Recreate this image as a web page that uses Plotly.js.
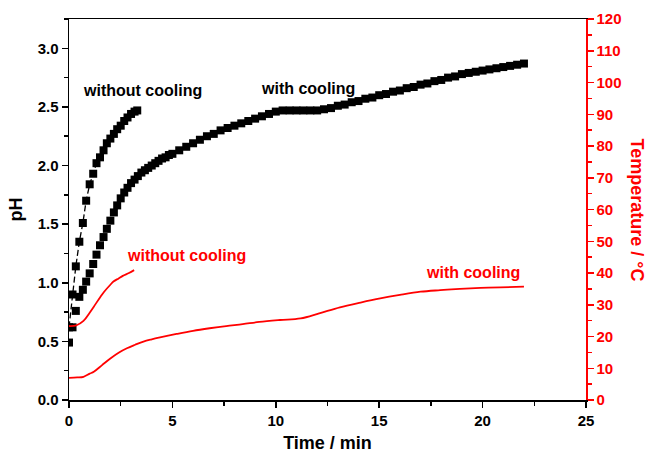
<!DOCTYPE html>
<html>
<head>
<meta charset="utf-8">
<script src="https://cdn.plot.ly/plotly-3.0.1.min.js"></script>
<style>html,body{margin:0;padding:0;background:#fff;}#chart{width:647px;height:457px;}</style>
</head>
<body>
<div id="chart"></div>
<script>
// pH, without cooling
const tPhNo = [0.0, 0.17, 0.33, 0.5, 0.67, 0.83, 1.0, 1.17, 1.33, 1.5, 1.67, 1.83, 2.0, 2.17, 2.33, 2.5, 2.67, 2.83, 3.0, 3.17, 3.3];
const phNo  = [0.62, 0.90, 1.14, 1.35, 1.51, 1.70, 1.84, 1.93, 2.02, 2.07, 2.13, 2.19, 2.23, 2.27, 2.31, 2.34, 2.38, 2.41, 2.44, 2.46, 2.47];

// pH, with cooling
const tPhCool = [0.0, 0.17, 0.33, 0.5, 0.67, 0.83, 1.0, 1.17, 1.33, 1.5, 1.67, 1.83, 2.0, 2.17, 2.33, 2.5, 2.67, 2.83,
  3.0, 3.17, 3.33, 3.5, 3.67, 3.83, 4.0, 4.17, 4.33, 4.5, 4.67, 4.83, 5.0, 5.33, 5.67, 6.0, 6.33, 6.67, 7.0, 7.33, 7.67, 8.0, 8.33, 8.67, 9.0, 9.33, 9.67,
  10.0, 10.33, 10.67, 11.0, 11.33, 11.67, 12.0, 12.33, 12.67, 13.0, 13.33, 13.67, 14.0, 14.33, 14.67, 15.0, 15.33, 15.67,
  16.0, 16.33, 16.67, 17.0, 17.33, 17.67, 18.0, 18.33, 18.67, 19.0, 19.33, 19.67, 20.0, 20.33, 20.67, 21.0, 21.33, 21.67, 22.0];
const phCool = [0.49, 0.62, 0.76, 0.88, 0.94, 1.01, 1.08, 1.16, 1.24, 1.32, 1.39, 1.46, 1.53, 1.60, 1.66, 1.72, 1.77, 1.81,
  1.85, 1.88, 1.91, 1.94, 1.96, 1.98, 2.00, 2.02, 2.04, 2.06, 2.07, 2.09, 2.10, 2.13, 2.16, 2.19, 2.22, 2.25, 2.27, 2.30, 2.32, 2.34, 2.36, 2.38, 2.40, 2.42, 2.44,
  2.46, 2.47, 2.47, 2.47, 2.47, 2.47, 2.47, 2.48, 2.49, 2.51, 2.52, 2.54, 2.55, 2.57, 2.58, 2.60, 2.61, 2.63,
  2.64, 2.66, 2.67, 2.69, 2.70, 2.72, 2.73, 2.75, 2.76, 2.78, 2.79, 2.80, 2.81, 2.82, 2.83, 2.84, 2.85, 2.86, 2.87];

// Temperature, without cooling
const tTNo = [0.0, 0.35, 0.7, 1.0, 1.2, 1.5, 1.7, 2.0, 2.15, 2.4, 2.6, 2.9, 3.15];
const tempNo = [23.3, 23.5, 24.9, 27.5, 29.4, 32.3, 34.1, 36.3, 37.3, 38.3, 39.1, 40.0, 40.9];

// Temperature, with cooling
const tTCool = [0.0, 0.4, 0.7, 1.0, 1.2, 1.6, 2.0, 2.4, 2.8, 3.2, 3.6, 4.0, 4.4, 5.2, 6.0, 6.8, 7.6, 8.4, 9.2, 10.2, 11.2,
  12.1, 13.1, 14.1, 15.05, 16.0, 17.0, 17.95, 18.9, 19.9, 20.85, 22.0];
const tempCool = [7.0, 7.1, 7.3, 8.3, 8.9, 11.0, 13.1, 14.9, 16.3, 17.4, 18.4, 19.1, 19.7, 20.8, 21.8, 22.6, 23.3, 23.9, 24.6, 25.2, 25.7,
  27.3, 29.2, 30.7, 32.0, 33.1, 34.1, 34.6, 35.0, 35.3, 35.5, 35.7];

const FONT = 'Arial, "Liberation Sans", sans-serif';
const RED = '#ff0000';

const traces = [
  {x: tPhNo, y: phNo, mode: 'lines+markers', type: 'scatter', yaxis: 'y',
   line: {color: '#000', width: 1.3, dash: '6px,3px'},
   marker: {symbol: 'square', size: 8, color: '#000'}},
  {x: tPhCool, y: phCool, mode: 'markers', type: 'scatter', yaxis: 'y',
   marker: {symbol: 'square', size: 8, color: '#000'}},
  {x: tTNo, y: tempNo, mode: 'lines', type: 'scatter', yaxis: 'y2',
   line: {color: RED, width: 1.8, shape: 'spline'}},
  {x: tTCool, y: tempCool, mode: 'lines', type: 'scatter', yaxis: 'y2',
   line: {color: RED, width: 1.8, shape: 'spline'}}
];

const tickFontBlack = {family: FONT, size: 15, color: '#000', weight: 'bold'};
const tickFontRed = {family: FONT, size: 15, color: RED, weight: 'bold'};
const annFont = (c) => ({family: FONT, size: 16, color: c, weight: 'bold'});

const layout = {
  width: 647, height: 457,
  margin: {l: 69, r: 61, t: 19, b: 57},
  paper_bgcolor: '#fff', plot_bgcolor: '#fff',
  showlegend: false,
  xaxis: {
    range: [0, 25], tickvals: [0, 5, 10, 15, 20, 25], ticktext: ['0', '5', '10', '15', '20', '25'],
    ticks: 'outside', ticklen: 6, tickwidth: 1.5, tickcolor: '#000',
    minor: {tickvals: [2.5, 7.5, 12.5, 17.5, 22.5], ticks: 'outside', ticklen: 4, tickwidth: 1.5, tickcolor: '#000'},
    showline: true, linecolor: '#000', linewidth: 1.5, mirror: true,
    showgrid: false, zeroline: false,
    tickfont: tickFontBlack,
    title: {text: 'Time / min', font: {family: FONT, size: 18, color: '#000', weight: 'bold'}, standoff: 9}
  },
  yaxis: {
    range: [0, 3.25], tickvals: [0, 0.5, 1, 1.5, 2, 2.5, 3], ticktext: ['0.0', '0.5', '1.0', '1.5', '2.0', '2.5', '3.0'],
    ticks: 'outside', ticklen: 6, tickwidth: 1.5, tickcolor: '#000',
    minor: {tickvals: [0.25, 0.75, 1.25, 1.75, 2.25, 2.75, 3.25], ticks: 'outside', ticklen: 4, tickwidth: 1.5, tickcolor: '#000'},
    showline: true, linecolor: '#000', linewidth: 1.5,
    showgrid: false, zeroline: false,
    tickfont: tickFontBlack,
    title: {text: 'pH', font: {family: FONT, size: 18, color: '#000', weight: 'bold'}, standoff: 10}
  },
  yaxis2: {
    overlaying: 'y', side: 'right', range: [0, 120],
    tickvals: [0, 10, 20, 30, 40, 50, 60, 70, 80, 90, 100, 110, 120],
    ticks: 'outside', ticklen: 6, tickwidth: 1.5, tickcolor: RED,
    minor: {tickvals: [5, 15, 25, 35, 45, 55, 65, 75, 85, 95, 105, 115], ticks: 'outside', ticklen: 4, tickwidth: 1.5, tickcolor: RED},
    showline: true, linecolor: RED, linewidth: 1.5,
    showgrid: false, zeroline: false,
    tickfont: tickFontRed
  },
  annotations: [
    {xref: 'x', yref: 'y', x: 0.6, y: 2.64, xanchor: 'left', yanchor: 'middle', showarrow: false,
     text: 'without cooling', font: annFont('#000')},
    {xref: 'x', yref: 'y', x: 9.2, y: 2.66, xanchor: 'left', yanchor: 'middle', showarrow: false,
     text: 'with cooling', font: annFont('#000')},
    {xref: 'x', yref: 'y2', x: 2.7, y: 45.4, xanchor: 'left', yanchor: 'middle', showarrow: false,
     text: 'without cooling', font: annFont(RED)},
    {xref: 'x', yref: 'y2', x: 17.15, y: 40.3, xanchor: 'left', yanchor: 'middle', showarrow: false,
     text: 'with cooling', font: annFont(RED)},
    {xref: 'paper', yref: 'paper', x: 1, y: 0.5, xshift: 51, showarrow: false, textangle: 90,
     xanchor: 'center', yanchor: 'middle',
     text: 'Temperature / °C', font: {family: FONT, size: 18, color: RED, weight: 'bold'}}
  ]
};

Plotly.newPlot('chart', traces, layout, {displayModeBar: false, staticPlot: true});
</script>
</body>
</html>
